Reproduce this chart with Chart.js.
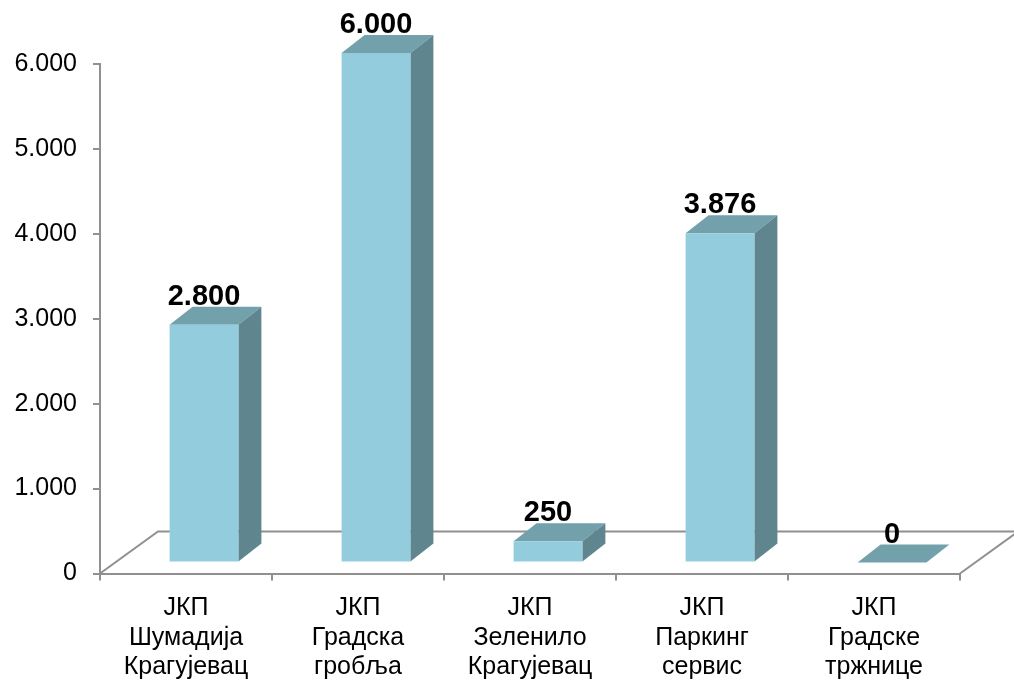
<!DOCTYPE html>
<html lang="sr">
<head>
  <meta charset="UTF-8">
  <title>ЈКП</title>
  <script src="https://cdn.jsdelivr.net/npm/chart.js"></script>
  <style>
    html, body { margin: 0; padding: 0; background: #fff; }
    #wrap { width: 1014px; height: 682px; position: relative; }
  </style>
</head>
<body>
<div id="wrap"><canvas id="chart"></canvas></div>
<script>
  // Data
  const categories = [
    ['ЈКП', 'Шумадија', 'Крагујевац'],
    ['ЈКП', 'Градска', 'гробља'],
    ['ЈКП', 'Зеленило', 'Крагујевац'],
    ['ЈКП', 'Паркинг', 'сервис'],
    ['ЈКП', 'Градске', 'тржнице']
  ];
  const values = [2800, 6000, 250, 3876, 0];
  const yTicks = [0, 1000, 2000, 3000, 4000, 5000, 6000];

  const FRONT = '#93CDDD';
  const TOP = '#72A0AB';
  const SIDE = '#5F858E';
  const GRAY = '#909090';
  const FONT = '"Liberation Sans", Arial, sans-serif';

  function fmt(v) {
    return String(v).replace(/\B(?=(\d{3})+(?!\d))/g, '.');
  }

  // shift of the bar row into the floor, and bar depth
  const SHIFT_X = 18, SHIFT_Y = -11;
  const DEPTH_X = 23, DEPTH_Y = -18;
  const FLOOR_X = 58, FLOOR_Y = -42;

  const bars3d = {
    id: 'bars3d',
    beforeDatasetsDraw(chart) {
      const ctx = chart.ctx;
      const a = chart.chartArea;
      // floor outline
      ctx.save();
      ctx.strokeStyle = GRAY;
      ctx.lineWidth = 2;
      ctx.beginPath();
      ctx.moveTo(a.left, a.bottom);
      ctx.lineTo(a.left + FLOOR_X, a.bottom + FLOOR_Y);
      ctx.lineTo(a.right + FLOOR_X, a.bottom + FLOOR_Y);
      ctx.lineTo(a.right, a.bottom);
      ctx.stroke();
      ctx.restore();

      ctx.save();
      ctx.translate(SHIFT_X, SHIFT_Y);
      chart.getDatasetMeta(0).data.forEach(bar => {
        const l = bar.x - bar.width / 2, r = bar.x + bar.width / 2;
        const t = bar.y, b = bar.base;
        // top face
        ctx.fillStyle = TOP;
        ctx.beginPath();
        ctx.moveTo(l, t);
        ctx.lineTo(r, t);
        ctx.lineTo(r + DEPTH_X, t + DEPTH_Y);
        ctx.lineTo(l + DEPTH_X, t + DEPTH_Y);
        ctx.closePath();
        ctx.fill();
        // side face
        if (b - t > 0.5) {
          ctx.fillStyle = SIDE;
          ctx.beginPath();
          ctx.moveTo(r, t);
          ctx.lineTo(r + DEPTH_X, t + DEPTH_Y);
          ctx.lineTo(r + DEPTH_X, b + DEPTH_Y);
          ctx.lineTo(r, b);
          ctx.closePath();
          ctx.fill();
        }
      });
    },
    afterDatasetsDraw(chart) {
      const ctx = chart.ctx;
      ctx.restore();
      ctx.save();
      ctx.fillStyle = '#000';
      ctx.font = 'bold 29px ' + FONT;
      ctx.textAlign = 'center';
      ctx.textBaseline = 'alphabetic';
      chart.getDatasetMeta(0).data.forEach((bar, i) => {
        ctx.fillText(fmt(values[i]), bar.x + SHIFT_X, bar.y + SHIFT_Y + DEPTH_Y - 2);
      });
      ctx.restore();
    }
  };

  new Chart(document.getElementById('chart'), {
    type: 'bar',
    data: {
      labels: categories,
      datasets: [{
        data: values,
        backgroundColor: FRONT,
        borderWidth: 0,
        categoryPercentage: 0.4,
        barPercentage: 1,
        clip: false
      }]
    },
    options: {
      responsive: true,
      maintainAspectRatio: false,
      animation: false,
      events: [],
      layout: { padding: { top: 64, right: 54, left: 0, bottom: 0 } },
      plugins: {
        legend: { display: false },
        tooltip: { enabled: false }
      },
      scales: {
        x: {
          offset: true,
          grid: { offset: true, drawOnChartArea: false, tickLength: 7, color: GRAY, lineWidth: 2 },
          border: { color: GRAY, width: 2 },
          ticks: {
            color: '#000',
            padding: 13,
            maxRotation: 0,
            font: { family: FONT, size: 25, lineHeight: 1.18 }
          },
          afterFit(scale) { scale.height = 108.5; }
        },
        y: {
          min: 0,
          max: 6000,
          afterBuildTicks(scale) { scale.ticks = yTicks.map(v => ({ value: v })); },
          grid: { drawOnChartArea: false, tickLength: 7, color: GRAY, lineWidth: 2 },
          border: { color: GRAY, width: 2 },
          ticks: {
            color: '#000',
            padding: 16,
            font: { family: FONT, size: 25 },
            callback: v => fmt(v)
          },
          afterFit(scale) { scale.width = 100; }
        }
      }
    },
    plugins: [bars3d]
  });
</script>
</body>
</html>
